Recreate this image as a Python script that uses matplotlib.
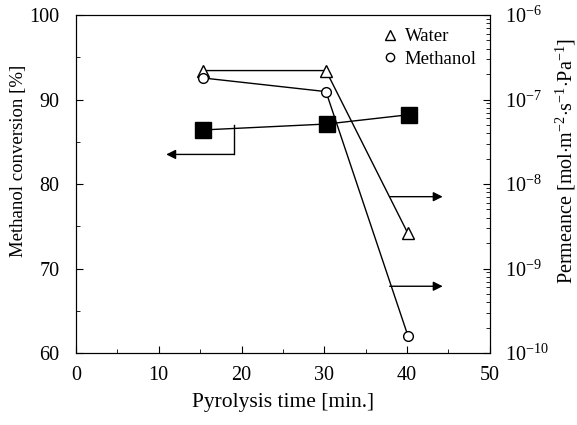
import numpy as np
import matplotlib
matplotlib.use("Agg")
from matplotlib import pyplot as plt
from matplotlib.lines import Line2D
from matplotlib.ticker import MultipleLocator, LogLocator, FixedLocator

# 数据
time_conv = [15.4, 30.3, 40.2]
conversion = [86.4, 87.1, 88.2]

time_perm = [15.3, 30.2, 40.1]
water_perm = [2.2e-7, 2.2e-7, 2.6e-9]
methanol_perm = [1.8e-7, 1.24e-7, 1.6e-10]

x_ticks = [0, 10, 20, 30, 40, 50]
y_ticks = [60, 70, 80, 90, 100]
perm_ticks = [1e-10, 1e-9, 1e-8, 1e-7, 1e-6]
perm_labels = ['$10^{-10}$', '$10^{-9}$', '$10^{-8}$', '$10^{-7}$', '$10^{-6}$']

plt.rcParams['font.family'] = ['Liberation Serif', 'DejaVu Serif']
plt.rcParams['mathtext.fontset'] = 'custom'
plt.rcParams['mathtext.rm'] = 'Liberation Serif'
plt.rcParams['mathtext.it'] = 'Liberation Serif:italic'
plt.rcParams['mathtext.bf'] = 'Liberation Serif:bold'

fig = plt.figure(figsize=(5.77, 4.25), dpi=100)
ax = fig.add_axes([0.1317, 0.1694, 0.7173, 0.7953])
ax2 = ax.twinx()

# 甲醇转化率
ax.plot(time_conv, conversion, '-', color='black', linewidth=1,
        marker='s', markersize=11, markerfacecolor='black', zorder=3)

# 渗透率
ax2.set_yscale('log')
ax2.plot(time_perm, water_perm, '-', color='black', linewidth=1,
         marker='^', markersize=8, markerfacecolor='white')
ax2.plot(time_perm, methanol_perm, '-', color='black', linewidth=1,
         marker='o', markersize=7, markerfacecolor='white')

# 箭头
arrow_kw = dict(arrowstyle='-|>', color='black', lw=1, mutation_scale=14,
                shrinkA=0, shrinkB=0)
ax.plot([19.1, 19.1], [87.0, 83.5], color='black', linewidth=1)
ax.annotate('', xy=(10.9, 83.5), xytext=(19.1, 83.5), arrowprops=arrow_kw)
ax.annotate('', xy=(44.3, 78.5), xytext=(37.9, 78.5), arrowprops=arrow_kw)
ax.annotate('', xy=(44.3, 67.9), xytext=(37.9, 67.9), arrowprops=arrow_kw)

ax.set_xlim(0, 50)
ax.set_ylim(60, 100)
ax.set_xticks(x_ticks)
ax.set_yticks(y_ticks)
ax.xaxis.set_minor_locator(MultipleLocator(5))
ax.yaxis.set_minor_locator(MultipleLocator(5))
ax.tick_params(axis='both', which='both', direction='in', labelsize=14.5,
               top=False, right=False)
ax.tick_params(which='major', length=5)
ax.tick_params(which='minor', length=3)
ax.tick_params(axis='x', pad=9)
ax.tick_params(axis='y', pad=12)

ax2.set_ylim(1e-10, 1e-6)
ax2.yaxis.set_major_locator(FixedLocator(perm_ticks))
ax2.set_yticklabels(perm_labels)
ax2.yaxis.set_minor_locator(LogLocator(base=10, subs=np.arange(2, 10)))
ax2.tick_params(axis='y', which='both', direction='in', labelsize=14.5, pad=11)
ax2.tick_params(which='major', length=5)
ax2.tick_params(which='minor', length=3)

ax.set_xlabel('Pyrolysis time [min.]', fontsize=15.5, labelpad=6)
ax.set_ylabel('Methanol conversion [%]', fontsize=13.5)
ax.yaxis.set_label_coords(-0.118, 0.567)
ax2.set_ylabel('Permeance [mol$\\cdot$m$^{-2}$$\\cdot$s$^{-1}$$\\cdot$Pa$^{-1}$]',
               fontsize=14.5)
ax2.yaxis.set_label_coords(1.155, 0.567)

handles = [
    Line2D([], [], linestyle='none', marker='^', markersize=7,
           markerfacecolor='white', markeredgecolor='black', label='Water'),
    Line2D([], [], linestyle='none', marker='o', markersize=6,
           markerfacecolor='white', markeredgecolor='black', label='Methanol'),
]
ax2.legend(handles=handles, loc='upper right', frameon=False, fontsize=13.5,
           handlelength=0.8, handletextpad=0.4, borderaxespad=0.3,
           labelspacing=0.3)

fig.savefig('out.png', dpi=100)
